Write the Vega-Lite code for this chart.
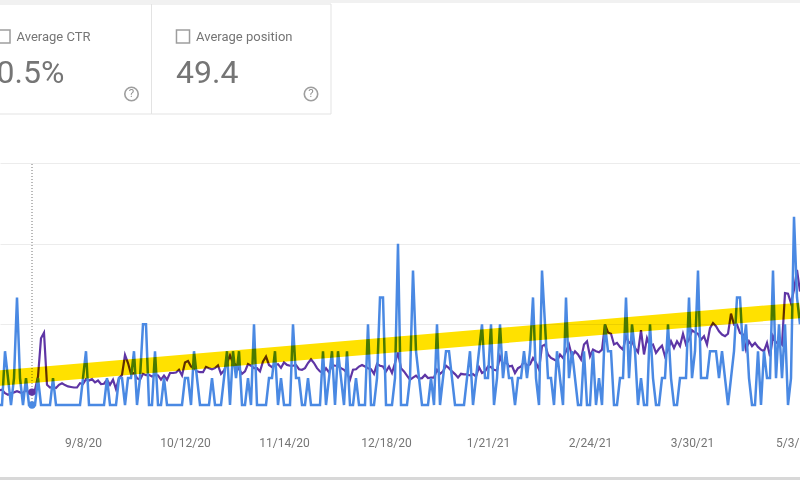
{"$schema":"https://vega.github.io/schema/vega-lite/v6.json","width":800,"height":480,"padding":0,"autosize":{"type":"none"},"background":"white","config":{"view":{"stroke":null},"font":"Roboto"},
"datasets":{
"cards":[{"panel":"cards","card":"Average CTR","value":"0.5%","help":"?"},{"panel":"cards","card":"Average position","value":"49.4","help":"?"}],
"strips":[{"strip":"page edge"}],
"hover":[{"d":"2020-08-22","clicks":0,"impressions":4.8}],
"trend":[{"d":"2020-08-11","trend":1.0},{"d":"2021-05-05","trend":3.52}],
"days":[
{"d":"2020-08-11","clicks":0,"impressions":5.4},{"d":"2020-08-12","clicks":0,"impressions":5.7},{"d":"2020-08-13","clicks":2,"impressions":4.4},{"d":"2020-08-14","clicks":1,"impressions":3.8},{"d":"2020-08-15","clicks":0,"impressions":4.4},{"d":"2020-08-16","clicks":1,"impressions":4.7},{"d":"2020-08-17","clicks":4,"impressions":5.1},{"d":"2020-08-18","clicks":1,"impressions":4.7},{"d":"2020-08-19","clicks":0,"impressions":4.4},{"d":"2020-08-20","clicks":1,"impressions":5.7},{"d":"2020-08-21","clicks":0,"impressions":4.4},{"d":"2020-08-22","clicks":0,"impressions":4.8},{"d":"2020-08-23","clicks":0,"impressions":5.7},{"d":"2020-08-24","clicks":1,"impressions":10.6},{"d":"2020-08-25","clicks":0,"impressions":24.8},{"d":"2020-08-26","clicks":0,"impressions":26.9},{"d":"2020-08-27","clicks":0,"impressions":7.5},{"d":"2020-08-28","clicks":0,"impressions":6.5},{"d":"2020-08-29","clicks":1,"impressions":6.7},{"d":"2020-08-30","clicks":0,"impressions":6.3},{"d":"2020-08-31","clicks":0,"impressions":7.5},
{"d":"2020-09-01","clicks":0,"impressions":8.1},{"d":"2020-09-02","clicks":0,"impressions":7.4},{"d":"2020-09-03","clicks":0,"impressions":6.9},{"d":"2020-09-04","clicks":0,"impressions":6.7},{"d":"2020-09-05","clicks":0,"impressions":6.5},{"d":"2020-09-06","clicks":0,"impressions":6.5},{"d":"2020-09-07","clicks":0,"impressions":8.1},{"d":"2020-09-08","clicks":1,"impressions":7.8},{"d":"2020-09-09","clicks":2,"impressions":9.6},{"d":"2020-09-10","clicks":0,"impressions":9.1},{"d":"2020-09-11","clicks":0,"impressions":9.6},{"d":"2020-09-12","clicks":0,"impressions":8.4},{"d":"2020-09-13","clicks":0,"impressions":9.1},{"d":"2020-09-14","clicks":0,"impressions":7.8},{"d":"2020-09-15","clicks":0,"impressions":7.9},{"d":"2020-09-16","clicks":1,"impressions":9.4},{"d":"2020-09-17","clicks":0,"impressions":7.5},{"d":"2020-09-18","clicks":0,"impressions":9.4},{"d":"2020-09-19","clicks":0,"impressions":5.9},{"d":"2020-09-20","clicks":1,"impressions":10},{"d":"2020-09-21","clicks":1,"impressions":11.2},{"d":"2020-09-22","clicks":0,"impressions":18.6},{"d":"2020-09-23","clicks":1,"impressions":15.6},{"d":"2020-09-24","clicks":1,"impressions":11.5},{"d":"2020-09-25","clicks":2,"impressions":11.9},{"d":"2020-09-26","clicks":0,"impressions":10},{"d":"2020-09-27","clicks":1,"impressions":9.4},{"d":"2020-09-28","clicks":3,"impressions":11.6},{"d":"2020-09-29","clicks":3,"impressions":11.1},{"d":"2020-09-30","clicks":0,"impressions":11.2},
{"d":"2020-10-01","clicks":0,"impressions":10.6},{"d":"2020-10-02","clicks":2,"impressions":11.2},{"d":"2020-10-03","clicks":0,"impressions":11},{"d":"2020-10-04","clicks":0,"impressions":9.4},{"d":"2020-10-05","clicks":1,"impressions":10.9},{"d":"2020-10-06","clicks":0,"impressions":9.4},{"d":"2020-10-07","clicks":0,"impressions":11.9},{"d":"2020-10-08","clicks":0,"impressions":11.9},{"d":"2020-10-09","clicks":0,"impressions":12.1},{"d":"2020-10-10","clicks":0,"impressions":13.1},{"d":"2020-10-11","clicks":0,"impressions":11},{"d":"2020-10-12","clicks":1,"impressions":15.8},{"d":"2020-10-13","clicks":1,"impressions":16.4},{"d":"2020-10-14","clicks":0,"impressions":14.3},{"d":"2020-10-15","clicks":2,"impressions":13.7},{"d":"2020-10-16","clicks":1,"impressions":12.5},{"d":"2020-10-17","clicks":0,"impressions":12.2},{"d":"2020-10-18","clicks":0,"impressions":12.2},{"d":"2020-10-19","clicks":0,"impressions":14.2},{"d":"2020-10-20","clicks":0,"impressions":13.7},{"d":"2020-10-21","clicks":1,"impressions":13.3},{"d":"2020-10-22","clicks":0,"impressions":13.7},{"d":"2020-10-23","clicks":0,"impressions":14.7},{"d":"2020-10-24","clicks":0,"impressions":11.6},{"d":"2020-10-25","clicks":1,"impressions":12.8},{"d":"2020-10-26","clicks":2,"impressions":15.6},{"d":"2020-10-27","clicks":0,"impressions":18.5},{"d":"2020-10-28","clicks":2,"impressions":15.6},{"d":"2020-10-29","clicks":1,"impressions":14.9},{"d":"2020-10-30","clicks":2,"impressions":13.3},{"d":"2020-10-31","clicks":0,"impressions":11.6},
{"d":"2020-11-01","clicks":0,"impressions":12.5},{"d":"2020-11-02","clicks":1,"impressions":15.2},{"d":"2020-11-03","clicks":0,"impressions":14.6},{"d":"2020-11-04","clicks":3,"impressions":13.7},{"d":"2020-11-05","clicks":0,"impressions":13.7},{"d":"2020-11-06","clicks":0,"impressions":12.5},{"d":"2020-11-07","clicks":0,"impressions":16.2},{"d":"2020-11-08","clicks":0,"impressions":18},{"d":"2020-11-09","clicks":1,"impressions":14.9},{"d":"2020-11-10","clicks":1,"impressions":14.1},{"d":"2020-11-11","clicks":2,"impressions":14.9},{"d":"2020-11-12","clicks":0,"impressions":15.2},{"d":"2020-11-13","clicks":1,"impressions":13.8},{"d":"2020-11-14","clicks":0,"impressions":15.8},{"d":"2020-11-15","clicks":0,"impressions":14.9},{"d":"2020-11-16","clicks":0,"impressions":14.6},{"d":"2020-11-17","clicks":3,"impressions":14.6},{"d":"2020-11-18","clicks":1,"impressions":14.9},{"d":"2020-11-19","clicks":1,"impressions":13.3},{"d":"2020-11-20","clicks":0,"impressions":13.1},{"d":"2020-11-21","clicks":0,"impressions":13.7},{"d":"2020-11-22","clicks":1,"impressions":15.6},{"d":"2020-11-23","clicks":0,"impressions":17},{"d":"2020-11-24","clicks":0,"impressions":15.6},{"d":"2020-11-25","clicks":0,"impressions":13.7},{"d":"2020-11-26","clicks":0,"impressions":12.5},{"d":"2020-11-27","clicks":2,"impressions":11.9},{"d":"2020-11-28","clicks":0,"impressions":13.7},{"d":"2020-11-29","clicks":1,"impressions":12.1},{"d":"2020-11-30","clicks":2,"impressions":14.9},
{"d":"2020-12-01","clicks":0,"impressions":14.6},{"d":"2020-12-02","clicks":2,"impressions":14.6},{"d":"2020-12-03","clicks":1,"impressions":13.7},{"d":"2020-12-04","clicks":0,"impressions":13.1},{"d":"2020-12-05","clicks":2,"impressions":11.9},{"d":"2020-12-06","clicks":0,"impressions":9.4},{"d":"2020-12-07","clicks":0,"impressions":13.1},{"d":"2020-12-08","clicks":1,"impressions":13.3},{"d":"2020-12-09","clicks":0,"impressions":14.3},{"d":"2020-12-10","clicks":0,"impressions":14.9},{"d":"2020-12-11","clicks":0,"impressions":14.3},{"d":"2020-12-12","clicks":3,"impressions":13.7},{"d":"2020-12-13","clicks":0,"impressions":13.3},{"d":"2020-12-14","clicks":0,"impressions":11.6},{"d":"2020-12-15","clicks":1,"impressions":15.3},{"d":"2020-12-16","clicks":4,"impressions":14.6},{"d":"2020-12-17","clicks":4,"impressions":14.3},{"d":"2020-12-18","clicks":0,"impressions":12.5},{"d":"2020-12-19","clicks":0,"impressions":14.3},{"d":"2020-12-20","clicks":0,"impressions":11.9},{"d":"2020-12-21","clicks":1,"impressions":15.6},{"d":"2020-12-22","clicks":6,"impressions":19.5},{"d":"2020-12-23","clicks":0,"impressions":13.7},{"d":"2020-12-24","clicks":0,"impressions":12.5},{"d":"2020-12-25","clicks":0,"impressions":10.9},{"d":"2020-12-26","clicks":1,"impressions":9.4},{"d":"2020-12-27","clicks":5,"impressions":10.2},{"d":"2020-12-28","clicks":2,"impressions":10.9},{"d":"2020-12-29","clicks":1,"impressions":9.8},{"d":"2020-12-30","clicks":0,"impressions":10},{"d":"2020-12-31","clicks":0,"impressions":11.2},
{"d":"2021-01-01","clicks":0,"impressions":10},{"d":"2021-01-02","clicks":1,"impressions":10.2},{"d":"2021-01-03","clicks":0,"impressions":10.2},{"d":"2021-01-04","clicks":3,"impressions":13.1},{"d":"2021-01-05","clicks":0,"impressions":11.6},{"d":"2021-01-06","clicks":1,"impressions":12.5},{"d":"2021-01-07","clicks":2,"impressions":14.6},{"d":"2021-01-08","clicks":2,"impressions":13.7},{"d":"2021-01-09","clicks":1,"impressions":12.5},{"d":"2021-01-10","clicks":0,"impressions":11.5},{"d":"2021-01-11","clicks":0,"impressions":10.2},{"d":"2021-01-12","clicks":0,"impressions":11.6},{"d":"2021-01-13","clicks":0,"impressions":11.4},{"d":"2021-01-14","clicks":1,"impressions":11.4},{"d":"2021-01-15","clicks":2,"impressions":11},{"d":"2021-01-16","clicks":0,"impressions":11.5},{"d":"2021-01-17","clicks":1,"impressions":10.6},{"d":"2021-01-18","clicks":2,"impressions":14.1},{"d":"2021-01-19","clicks":3,"impressions":11.9},{"d":"2021-01-20","clicks":1,"impressions":12.5},{"d":"2021-01-21","clicks":1,"impressions":14.3},{"d":"2021-01-22","clicks":3,"impressions":14.1},{"d":"2021-01-23","clicks":0,"impressions":13.1},{"d":"2021-01-24","clicks":1,"impressions":12.8},{"d":"2021-01-25","clicks":3,"impressions":18},{"d":"2021-01-26","clicks":1,"impressions":14.9},{"d":"2021-01-27","clicks":2,"impressions":16.2},{"d":"2021-01-28","clicks":1,"impressions":14.3},{"d":"2021-01-29","clicks":1,"impressions":14.6},{"d":"2021-01-30","clicks":0,"impressions":11.9},{"d":"2021-01-31","clicks":1,"impressions":13.7},
{"d":"2021-02-01","clicks":1,"impressions":14.3},{"d":"2021-02-02","clicks":2,"impressions":16.2},{"d":"2021-02-03","clicks":1,"impressions":14.6},{"d":"2021-02-04","clicks":2,"impressions":15.1},{"d":"2021-02-05","clicks":4,"impressions":17.5},{"d":"2021-02-06","clicks":1,"impressions":15.7},{"d":"2021-02-07","clicks":0,"impressions":13.2},{"d":"2021-02-08","clicks":5,"impressions":21.9},{"d":"2021-02-09","clicks":3,"impressions":22.5},{"d":"2021-02-10","clicks":1,"impressions":18.8},{"d":"2021-02-11","clicks":1,"impressions":17.5},{"d":"2021-02-12","clicks":0,"impressions":16.9},{"d":"2021-02-13","clicks":2,"impressions":16.3},{"d":"2021-02-14","clicks":1,"impressions":18.8},{"d":"2021-02-15","clicks":0,"impressions":17.5},{"d":"2021-02-16","clicks":4,"impressions":20},{"d":"2021-02-17","clicks":1,"impressions":22.5},{"d":"2021-02-18","clicks":2,"impressions":18.1},{"d":"2021-02-19","clicks":1,"impressions":20},{"d":"2021-02-20","clicks":0,"impressions":18.8},{"d":"2021-02-21","clicks":0,"impressions":16.9},{"d":"2021-02-22","clicks":2,"impressions":22.5},{"d":"2021-02-23","clicks":0,"impressions":23.7},{"d":"2021-02-24","clicks":0,"impressions":18.1},{"d":"2021-02-25","clicks":2,"impressions":20.6},{"d":"2021-02-26","clicks":0,"impressions":20},{"d":"2021-02-27","clicks":1,"impressions":19.6},{"d":"2021-02-28","clicks":0,"impressions":20.6},
{"d":"2021-03-01","clicks":3,"impressions":29.9},{"d":"2021-03-02","clicks":2,"impressions":27},{"d":"2021-03-03","clicks":2,"impressions":26.5},{"d":"2021-03-04","clicks":0,"impressions":22.5},{"d":"2021-03-05","clicks":0,"impressions":23.1},{"d":"2021-03-06","clicks":1,"impressions":21.6},{"d":"2021-03-07","clicks":1,"impressions":20.6},{"d":"2021-03-08","clicks":4,"impressions":25.6},{"d":"2021-03-09","clicks":1,"impressions":23.1},{"d":"2021-03-10","clicks":3,"impressions":23.7},{"d":"2021-03-11","clicks":2,"impressions":21.2},{"d":"2021-03-12","clicks":0,"impressions":19.6},{"d":"2021-03-13","clicks":1,"impressions":27.8},{"d":"2021-03-14","clicks":0,"impressions":18.8},{"d":"2021-03-15","clicks":0,"impressions":24.9},{"d":"2021-03-16","clicks":3,"impressions":21.9},{"d":"2021-03-17","clicks":1,"impressions":22.5},{"d":"2021-03-18","clicks":0,"impressions":19.4},{"d":"2021-03-19","clicks":0,"impressions":20.9},{"d":"2021-03-20","clicks":1,"impressions":22.1},{"d":"2021-03-21","clicks":1,"impressions":18.1},{"d":"2021-03-22","clicks":3,"impressions":20.6},{"d":"2021-03-23","clicks":1,"impressions":23.7},{"d":"2021-03-24","clicks":0,"impressions":21.2},{"d":"2021-03-25","clicks":0,"impressions":23.7},{"d":"2021-03-26","clicks":1,"impressions":21.9},{"d":"2021-03-27","clicks":1,"impressions":26.5},{"d":"2021-03-28","clicks":1,"impressions":22.5},{"d":"2021-03-29","clicks":4,"impressions":24.3},{"d":"2021-03-30","clicks":1,"impressions":27.8},{"d":"2021-03-31","clicks":2,"impressions":27},
{"d":"2021-04-01","clicks":5,"impressions":26.5},{"d":"2021-04-02","clicks":1,"impressions":24.3},{"d":"2021-04-03","clicks":1,"impressions":25.6},{"d":"2021-04-04","clicks":1,"impressions":22.5},{"d":"2021-04-05","clicks":2,"impressions":28.6},{"d":"2021-04-06","clicks":2,"impressions":30.5},{"d":"2021-04-07","clicks":2,"impressions":29.3},{"d":"2021-04-08","clicks":1,"impressions":27.4},{"d":"2021-04-09","clicks":2,"impressions":26.2},{"d":"2021-04-10","clicks":1,"impressions":25.6},{"d":"2021-04-11","clicks":0,"impressions":26.5},{"d":"2021-04-12","clicks":1,"impressions":34},{"d":"2021-04-13","clicks":2,"impressions":29.9},{"d":"2021-04-14","clicks":4,"impressions":29.9},{"d":"2021-04-15","clicks":4,"impressions":26.8},{"d":"2021-04-16","clicks":2,"impressions":26.2},{"d":"2021-04-17","clicks":3,"impressions":20.6},{"d":"2021-04-18","clicks":1,"impressions":23.7},{"d":"2021-04-19","clicks":0,"impressions":21.9},{"d":"2021-04-20","clicks":0,"impressions":23.1},{"d":"2021-04-21","clicks":2,"impressions":21.6},{"d":"2021-04-22","clicks":0,"impressions":20.6},{"d":"2021-04-23","clicks":2,"impressions":20},{"d":"2021-04-24","clicks":1,"impressions":23.1},{"d":"2021-04-25","clicks":1,"impressions":18.1},{"d":"2021-04-26","clicks":5,"impressions":25.6},{"d":"2021-04-27","clicks":1,"impressions":23.1},{"d":"2021-04-28","clicks":3,"impressions":23.7},{"d":"2021-04-29","clicks":1,"impressions":22.5},{"d":"2021-04-30","clicks":3,"impressions":41.6},
{"d":"2021-05-01","clicks":0,"impressions":41.4},{"d":"2021-05-02","clicks":1,"impressions":37.9},{"d":"2021-05-03","clicks":7,"impressions":42.8},{"d":"2021-05-04","clicks":4,"impressions":50.2},{"d":"2021-05-05","clicks":3,"impressions":42.2}
]},
"layer":[
{"data":{"name":"strips"},"mark":{"type":"rect","color":"#f1f1f1"},"encoding":{"y":{"field":"strip","type":"nominal","axis":null,"scale":{"type":"band","range":[0,3]}}}},
{"data":{"name":"strips"},"mark":{"type":"rect","color":"#d8d8d8"},"encoding":{"y":{"field":"strip","type":"nominal","axis":null,"scale":{"type":"band","range":[477,480]}}}},
{"data":{"name":"cards"},
"encoding":{"x":{"field":"card","type":"nominal","axis":null,"bandPosition":0,"scale":{"type":"band","domain":["Average CTR","Average position"],"range":[-28,331],"paddingInner":0,"paddingOuter":0}},"y":{"field":"panel","type":"nominal","axis":null,"bandPosition":0,"scale":{"type":"band","range":[4,114]}}},
"layer":[
{"mark":{"type":"rect","fill":"white","stroke":"#e3e3e3","strokeWidth":1}},
{"mark":{"type":"square","size":170,"xOffset":31.5,"yOffset":32.5,"filled":false,"stroke":"#757575","strokeWidth":1.5,"cornerRadius":2}},
{"mark":{"type":"text","align":"left","baseline":"middle","xOffset":44.5,"yOffset":32.5,"font":"Roboto","fontSize":13,"color":"#757575"},"encoding":{"text":{"field":"card"}}},
{"mark":{"type":"text","align":"left","baseline":"alphabetic","xOffset":24.5,"yOffset":79,"font":"Roboto","fontSize":32,"color":"#757575"},"encoding":{"text":{"field":"value"}}},
{"mark":{"type":"point","shape":"circle","size":180,"xOffset":159.5,"yOffset":90,"filled":false,"stroke":"#9e9e9e","strokeWidth":1.6,"opacity":1}},
{"mark":{"type":"text","align":"center","baseline":"middle","xOffset":159.5,"yOffset":90,"font":"Roboto","fontSize":11.5,"color":"#8f8f8f"},"encoding":{"text":{"field":"help"}}}
]},
{"data":{"name":"trend"},
"encoding":{"x":{"field":"d","type":"temporal","axis":{"orient":"bottom","offset":-75,"title":null,"values":["2020-09-08","2020-10-12","2020-11-14","2020-12-18","2021-01-21","2021-02-24","2021-03-30","2021-05-03"],"format":"%-m/%-d/%y","domain":false,"ticks":false,"grid":false,"labelPadding":32,"labelFont":"Roboto","labelFontSize":12,"labelColor":"#757575","labelOverlap":false,"labelBound":false,"labelFlush":false},"scale":{"type":"utc","domain":["2020-08-11T08:00:00Z","2021-05-05T00:00:00Z"],"range":[0,800]}},
"y":{"field":"trend","type":"quantitative","axis":{"orient":"left","title":null,"values":[3,6,9],"labels":false,"ticks":false,"domain":false,"grid":true,"gridColor":"#ececec","gridWidth":1},"scale":{"domain":[0,9],"range":[405,163]}}},
"mark":{"type":"line","opacity":0}},
{"data":{"name":"days"},"mark":{"type":"line","color":"#5e35a5","strokeWidth":2.2,"interpolate":"linear"},"encoding":{"x":{"field":"d","type":"temporal","axis":null,"scale":{"type":"utc","domain":["2020-08-11T08:00:00Z","2021-05-05T00:00:00Z"],"range":[0,800]}},"y":{"field":"impressions","type":"quantitative","axis":null,"scale":{"domain":[0,90],"range":[405,163]}}}},
{"data":{"name":"hover"},"encoding":{"x":{"field":"d","type":"temporal","axis":null,"scale":{"type":"utc","domain":["2020-08-11T08:00:00Z","2021-05-05T00:00:00Z"],"range":[0,800]}},"y":{"datum":0,"type":"quantitative","axis":null,"scale":{"domain":[0,9],"range":[405,163]}}},
"layer":[
{"mark":{"type":"rule","color":"#9e9e9e","strokeWidth":1,"x2":800}, "encoding":{"x":{"datum":{"year":2020,"month":8,"date":11,"hours":8},"type":"temporal","axis":null,"scale":{"type":"utc","domain":["2020-08-11T08:00:00Z","2021-05-05T00:00:00Z"],"range":[0,800]}}}},
{"mark":{"type":"rule","color":"#757575","strokeWidth":1,"strokeDash":[1,2]},"encoding":{"y2":{"datum":9}}}
]},
{"data":{"name":"days"},"mark":{"type":"line","color":"#4a89e3","strokeWidth":2.5,"interpolate":"linear"},"encoding":{"x":{"field":"d","type":"temporal","axis":null,"scale":{"type":"utc","domain":["2020-08-11T08:00:00Z","2021-05-05T00:00:00Z"],"range":[0,800]}},"y":{"field":"clicks","type":"quantitative","axis":null,"scale":{"domain":[0,9],"range":[405,163]}}}},
{"data":{"name":"trend"},"mark":{"type":"line","color":"#ffe100","strokeWidth":15.5,"blend":"multiply"},"encoding":{"x":{"field":"d","type":"temporal","axis":null,"scale":{"type":"utc","domain":["2020-08-11T08:00:00Z","2021-05-05T00:00:00Z"],"range":[0,800]}},"y":{"field":"trend","type":"quantitative","axis":null,"scale":{"domain":[0,9],"range":[405,163]}}}},
{"data":{"name":"hover"},"mark":{"type":"circle","size":55,"color":"#5e35a5","opacity":1},"encoding":{"x":{"field":"d","type":"temporal","axis":null,"scale":{"type":"utc","domain":["2020-08-11T08:00:00Z","2021-05-05T00:00:00Z"],"range":[0,800]}},"y":{"field":"impressions","type":"quantitative","axis":null,"scale":{"domain":[0,90],"range":[405,163]}}}},
{"data":{"name":"hover"},"mark":{"type":"circle","size":55,"color":"#4a89e3","opacity":1},"encoding":{"x":{"field":"d","type":"temporal","axis":null,"scale":{"type":"utc","domain":["2020-08-11T08:00:00Z","2021-05-05T00:00:00Z"],"range":[0,800]}},"y":{"field":"clicks","type":"quantitative","axis":null,"scale":{"domain":[0,9],"range":[405,163]}}}}
],
"resolve":{"scale":{"x":"independent","y":"independent"},"axis":{"x":"independent","y":"independent"}}}
